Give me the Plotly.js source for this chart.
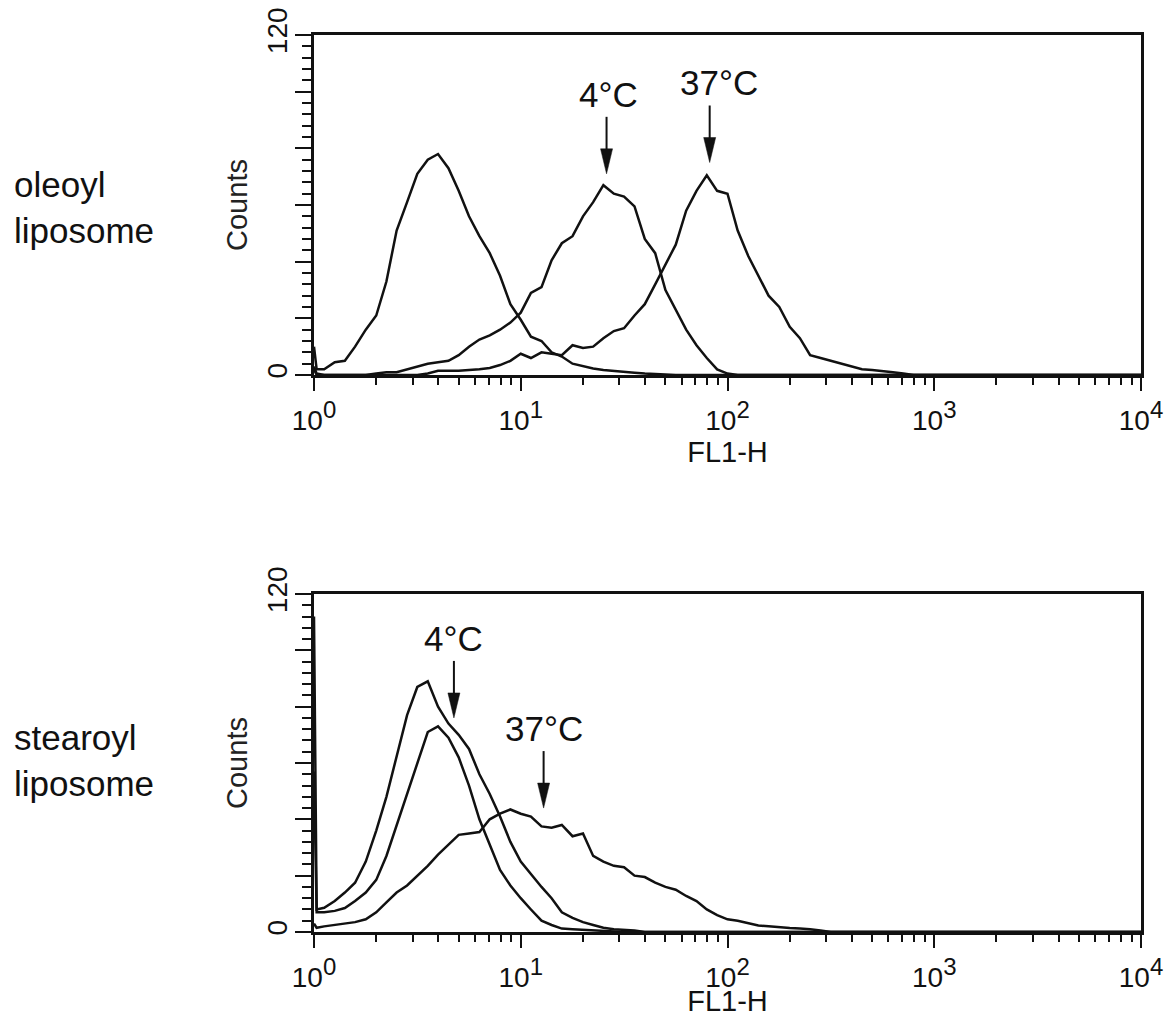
<!DOCTYPE html>
<html>
<head>
<meta charset="utf-8">
<script src="https://cdn.plot.ly/plotly-3.0.1.min.js"></script>
<style>
  html, body { margin: 0; padding: 0; background: #ffffff; }
  #chart { width: 1170px; height: 1017px; }
</style>
</head>
<body>
<div id="chart"></div>
<script>
// ---------------- DATA ----------------
// FL1-H channel positions (log-spaced bins; first two = debris channel at the axis)
const fl1Bins = [1.00, 1.03,
  1.12, 1.26, 1.41, 1.58, 1.78, 2.00, 2.24, 2.51, 2.82, 3.16,
  3.55, 3.98, 4.47, 5.01, 5.62, 6.31, 7.08, 7.94, 8.91, 10.0,
  11.2, 12.6, 14.1, 15.8, 17.8, 20.0, 22.4, 25.1, 28.2, 31.6,
  35.5, 39.8, 44.7, 50.1, 56.2, 63.1, 70.8, 79.4, 89.1, 100,
  112, 126, 141, 158, 178, 200, 224, 251, 282, 316,
  355, 398, 447, 501, 562, 631, 708, 794, 891, 1000,
  10000];

// oleoyl liposome panel
const oleoylControl = [10, 2,
  2, 4.5, 5, 10, 16, 21, 33, 51, 61, 71,
  76, 78, 73, 65, 56, 49, 43, 35, 25, 19.5,
  13.5, 12, 8, 6.5, 4, 3, 2.3, 1.8, 1.4, 1,
  0.8, 0.5, 0.3, 0, 0, 0, 0, 0, 0, 0,
  0, 0, 0, 0, 0, 0, 0, 0, 0, 0,
  0, 0, 0, 0, 0, 0, 0, 0, 0, 0,
  0];
const oleoyl4C = [3, 0.5,
  0, 0, 0, 0, 0, 0.5, 1, 1, 2, 3,
  4, 4.5, 5, 7, 10, 12.5, 14, 16, 18.5, 22,
  29, 31, 40.5, 46.5, 49, 56, 61, 67, 64, 63,
  59.5, 48, 43, 30, 23, 16, 10.5, 6, 2, 0.5,
  0, 0, 0, 0, 0, 0, 0, 0, 0, 0,
  0, 0, 0, 0, 0, 0, 0, 0, 0, 0,
  0];
const oleoyl37C = [2, 0,
  0, 0, 0, 0, 0, 0, 0, 0, 0, 0,
  0.5, 1.5, 1.5, 1.5, 1.8, 2, 2.5, 3.5, 5, 7.5,
  6, 8, 7.5, 7, 10.5, 9.5, 10, 13, 15.5, 16.5,
  21, 25, 32, 39, 46, 58, 65, 70.5, 65, 64,
  51, 42, 35, 28, 24, 17, 13, 7, 6, 5,
  4, 3, 2, 1.8, 1.5, 1, 0.5, 0, 0, 0,
  0];

// stearoyl liposome panel
const stearoylControl = [112, 8,
  8.6, 11, 14, 17.5, 25, 36, 48, 62, 77, 87,
  89, 80, 74, 70, 65, 56, 49, 41, 32, 25,
  20.5, 16, 12, 7, 5, 3.5, 2.5, 1.5, 1, 0.8,
  0.5, 0, 0, 0, 0, 0, 0, 0, 0, 0,
  0, 0, 0, 0, 0, 0, 0, 0, 0, 0,
  0, 0, 0, 0, 0, 0, 0, 0, 0, 0,
  0];
const stearoyl4C = [57, 7,
  7, 7.5, 8.5, 11, 14, 18.5, 27, 38, 49.5, 60,
  71, 73, 69, 62, 52, 40, 31, 22, 16.5, 12,
  8, 4, 2.5, 1.2, 1, 0.8, 0.5, 0.3, 0, 0,
  0, 0, 0, 0, 0, 0, 0, 0, 0, 0,
  0, 0, 0, 0, 0, 0, 0, 0, 0, 0,
  0, 0, 0, 0, 0, 0, 0, 0, 0, 0,
  0];
const stearoyl37C = [3, 1.5,
  2, 2.5, 3, 3.5, 4.5, 7, 10.5, 14, 16.5, 20,
  23.5, 27.5, 31, 34.5, 35, 35.5, 40, 42, 43.5, 42,
  41, 37.5, 37, 38, 34, 35, 27, 25, 23.5, 23,
  20, 19.5, 17.5, 16, 15, 12.8, 11, 8, 6, 4.5,
  4, 3, 2.3, 2, 1.6, 1.4, 1.2, 1, 0.5, 0,
  0, 0, 0, 0, 0, 0, 0, 0, 0, 0,
  0];

// panel labels and arrow annotations
const panelLabels = ['oleoyl<br>liposome', 'stearoyl<br>liposome'];
const arrowTexts  = [['4°C', '37°C'], ['4°C', '37°C']];
const arrowTipX   = [[26, 82], [4.75, 12.9]];     // FL1-H value at arrow tip
const arrowTipY   = [[71, 75], [76, 44]];          // Counts at arrow tip

// axis ticks
const xTickVals  = [1, 10, 100, 1000, 10000];
const xTickExp   = ['0', '1', '2', '3', '4'];
const yTickVals  = [0, 20, 40, 60, 80, 100, 120];
const yTickText  = ['0', '', '', '', '', '', '120'];
const xTitle = 'FL1-H';
const yTitle = 'Counts';

// ---------------- STYLE ----------------
const INK = '#111111';
const FONT = 'Liberation Sans, Arial, Helvetica, sans-serif';
const W = 1170, H = 1017;

const xTickText = xTickExp.map(e => '10<sup><span style="font-size:24px">' + e + '</span></sup>');

const xMinor = [];
for (let i = 0; i < xTickVals.length - 1; i++) {
  for (let m = 2; m <= 9; m++) xMinor.push(xTickVals[i] * m);
}

function trace(y, xa, ya) {
  return {
    x: fl1Bins, y: y, xaxis: xa, yaxis: ya,
    type: 'scatter', mode: 'lines',
    line: { color: INK, width: 2.5 },
    hoverinfo: 'skip', showlegend: false
  };
}

const data = [
  trace(oleoylControl, 'x', 'y'),
  trace(oleoyl4C, 'x', 'y'),
  trace(oleoyl37C, 'x', 'y'),
  trace(stearoylControl, 'x2', 'y2'),
  trace(stearoyl4C, 'x2', 'y2'),
  trace(stearoyl37C, 'x2', 'y2')
];

function xAxis(anchor) {
  return {
    type: 'log', range: [0, 4], anchor: anchor,
    domain: [314 / W, 1141 / W],
    tickmode: 'array', tickvals: xTickVals, ticktext: xTickText,
    ticks: 'outside', ticklen: 13, tickwidth: 2, tickcolor: INK,
    minor: { tickmode: 'array', tickvals: xMinor, ticks: 'outside', ticklen: 7, tickwidth: 2, tickcolor: INK, showgrid: false },
    ticklabelstandoff: 5,
    showline: true, linewidth: 3, linecolor: INK, mirror: true,
    showgrid: false, zeroline: false,
    tickfont: { family: FONT, size: 28, color: INK },
    title: { text: xTitle, font: { family: FONT, size: 29, color: INK }, standoff: 0 },
    fixedrange: true
  };
}
function yAxis(anchor, dom) {
  return {
    range: [0, 120], anchor: anchor, domain: dom,
    tickmode: 'array', tickvals: yTickVals, ticktext: yTickText,
    ticks: 'outside', ticklen: 16, tickwidth: 2, tickcolor: INK,
    minor: { tickmode: 'linear', tick0: 0, dtick: 4, ticks: 'outside', ticklen: 9, tickwidth: 2, tickcolor: INK, showgrid: false },
    tickangle: -90,
    ticklabelstandoff: -3,
    showline: true, linewidth: 3, linecolor: INK, mirror: true,
    showgrid: false, zeroline: false,
    tickfont: { family: FONT, size: 28, color: INK },
    title: { text: yTitle, font: { family: FONT, size: 29, color: '#222' }, standoff: 6 },
    fixedrange: true
  };
}

const annotations = [];
const shapes = [];
const refs = [['x', 'y'], ['x2', 'y2']];
const textShift = [[2, 9], [0, 0]];
const labelCenters = [208, 760];

for (let p = 0; p < 2; p++) {
  annotations.push({
    xref: 'paper', yref: 'paper', x: 12 / W, y: 1 - labelCenters[p] / H,
    xanchor: 'left', yanchor: 'middle', align: 'left', showarrow: false,
    text: panelLabels[p],
    font: { family: FONT, size: 35, color: INK }
  });
  for (let i = 0; i < arrowTexts[p].length; i++) {
    const [xr, yr] = refs[p];
    const tx = arrowTipX[p][i], ty = arrowTipY[p][i];
    annotations.push({
      xref: xr, yref: yr, x: Math.log10(tx), y: ty,
      xanchor: 'center', yanchor: 'bottom', showarrow: false,
      xshift: textShift[p][i], yshift: 58,
      text: arrowTexts[p][i],
      font: { family: FONT, size: 35, color: INK }
    });
    shapes.push({
      type: 'line', xref: xr, yref: yr,
      xsizemode: 'pixel', ysizemode: 'pixel', xanchor: tx, yanchor: ty,
      x0: 0, x1: 0, y0: 18, y1: 57,
      line: { color: INK, width: 2 }
    });
    shapes.push({
      type: 'path', xref: xr, yref: yr,
      xsizemode: 'pixel', ysizemode: 'pixel', xanchor: tx, yanchor: ty,
      path: 'M0,0 L-6,25 L6,25 Z',
      fillcolor: INK, line: { color: INK, width: 0.5 }
    });
  }
}

const layout = {
  width: W, height: H,
  margin: { l: 0, r: 0, t: 0, b: 0 },
  paper_bgcolor: '#ffffff', plot_bgcolor: '#ffffff',
  showlegend: false,
  xaxis: xAxis('y'),
  yaxis: yAxis('x', [642 / H, 982 / H]),
  xaxis2: xAxis('y2'),
  yaxis2: yAxis('x2', [85 / H, 423 / H]),
  annotations: annotations,
  shapes: shapes
};

Plotly.newPlot('chart', data, layout, { staticPlot: true, displayModeBar: false });
</script>
</body>
</html>
